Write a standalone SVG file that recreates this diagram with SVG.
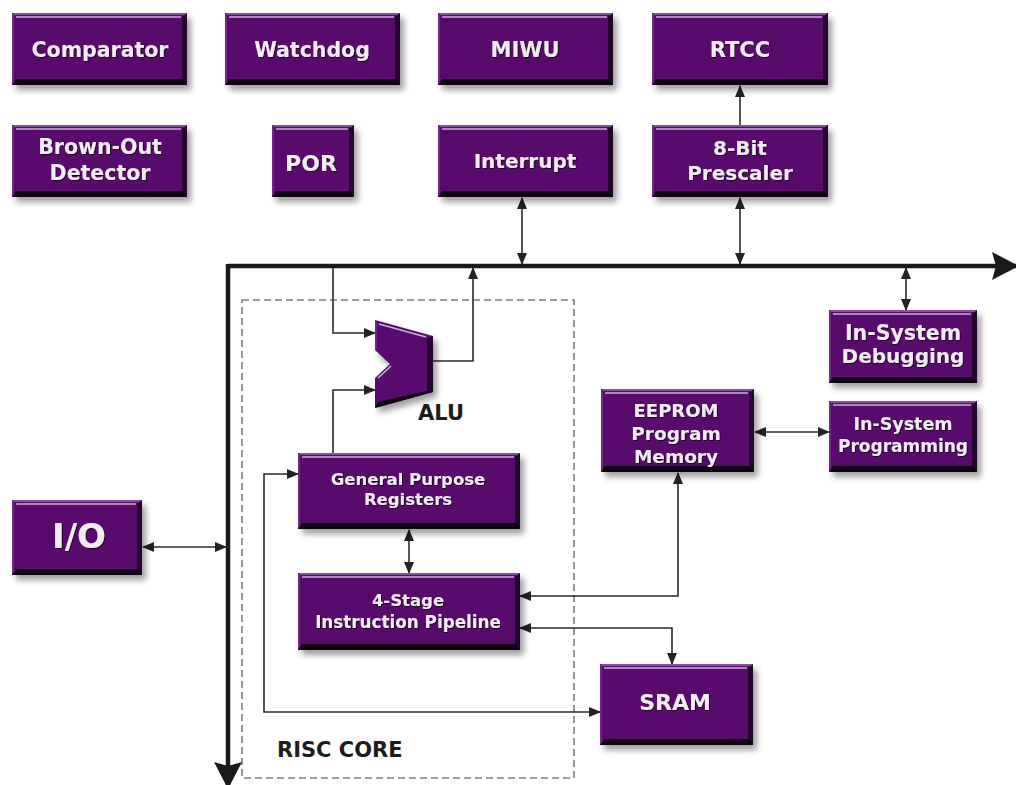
<svg xmlns="http://www.w3.org/2000/svg" width="1016" height="785" viewBox="0 0 1016 785">
<defs>
<filter id="blur" x="-20%" y="-20%" width="140%" height="140%"><feGaussianBlur stdDeviation="3"/></filter>
<filter id="ts" x="-10%" y="-30%" width="120%" height="160%"><feDropShadow dx="0.8" dy="0.8" stdDeviation="0.7" flood-color="#000" flood-opacity="0.9"/></filter>
<marker id="ah" markerUnits="userSpaceOnUse" markerWidth="12" markerHeight="10" refX="11" refY="5" orient="auto-start-reverse"><path d="M0,0 L12,5 L0,10 Z" fill="#222"/></marker>
<marker id="big" markerUnits="userSpaceOnUse" markerWidth="27" markerHeight="28" refX="26" refY="14" orient="auto"><path d="M0,0 L27,14 L0,28 L4,14 Z" fill="#1a1a1a"/></marker>
</defs>
<style>
.sh{fill:#000;opacity:.38;filter:url(#blur)}
.face{fill:#580b6d}
.tp{fill:#86509a}
.lf{fill:#6e2a80}
.rt{fill:#23062b}
.bt{fill:#0f0213}
.hl{stroke:#cdb0d6;stroke-width:1.5;fill:none}
.t{font-family:"DejaVu Sans","Liberation Sans",sans-serif;font-weight:bold;fill:#f0edf0;text-anchor:middle;filter:url(#ts)}
.lb{font-family:"DejaVu Sans","Liberation Sans",sans-serif;font-weight:bold;fill:#1c1c1c}
.ln{stroke:#2a2a2a;stroke-width:1.6;fill:none}
.bus{stroke:#1a1a1a;stroke-width:4.5;fill:none}
.dash{stroke:#7e7e7e;stroke-width:1.6;fill:none;stroke-dasharray:7 4}
</style>
<rect width="1016" height="785" fill="#fff"/>

<rect class="dash" x="242" y="300" width="332" height="478"/>
<text class="lb" x="277" y="757" font-size="21">RISC CORE</text>

<g id="connectors">
<path class="bus" d="M228,266 H1018" marker-end="url(#big)"/>
<path class="bus" d="M228,264 V788" marker-end="url(#big)"/>
<line class="ln" x1="740" y1="125" x2="740" y2="86" marker-end="url(#ah)"/>
<line class="ln" x1="522" y1="198" x2="522" y2="264" marker-start="url(#ah)" marker-end="url(#ah)"/>
<line class="ln" x1="740" y1="198" x2="740" y2="264" marker-start="url(#ah)" marker-end="url(#ah)"/>
<line class="ln" x1="906" y1="268" x2="906" y2="310" marker-start="url(#ah)" marker-end="url(#ah)"/>
<line class="ln" x1="755" y1="432" x2="829" y2="432" marker-start="url(#ah)" marker-end="url(#ah)"/>
<line class="ln" x1="143" y1="547" x2="226" y2="547" marker-start="url(#ah)" marker-end="url(#ah)"/>
<path class="ln" d="M333,268 V333 H375" marker-end="url(#ah)"/>
<path class="ln" d="M433,361 H473 V268" marker-end="url(#ah)"/>
<path class="ln" d="M333,453 V390 H375" marker-end="url(#ah)"/>
<line class="ln" x1="409" y1="530" x2="409" y2="573" marker-start="url(#ah)" marker-end="url(#ah)"/>
<path class="ln" d="M678,473 V596 H520" marker-start="url(#ah)" marker-end="url(#ah)"/>
<path class="ln" d="M520,628 H672 V664" marker-start="url(#ah)" marker-end="url(#ah)"/>
<path class="ln" d="M298,474 H264 V712 H600" marker-start="url(#ah)" marker-end="url(#ah)"/>
</g>

<g id="comparator">
<rect class="sh" x="16" y="18" width="175" height="72"/>
<rect class="face" x="12" y="13" width="175" height="72"/>
<rect class="tp" x="12" y="13" width="175" height="2"/>
<rect class="lf" x="12" y="13" width="2" height="72"/>
<path class="rt" d="M182,17 L187,13 L187,85 L182,80 Z"/>
<path class="bt" d="M12,85 L16,79 L183,79 L187,85 Z"/>
<line class="hl" x1="16" y1="17" x2="181" y2="17"/>
<text class="t" x="100" y="57" font-size="20.5">Comparator</text>
</g>
<g id="watchdog">
<rect class="sh" x="229" y="18" width="175" height="72"/>
<rect class="face" x="225" y="13" width="175" height="72"/>
<rect class="tp" x="225" y="13" width="175" height="2"/>
<rect class="lf" x="225" y="13" width="2" height="72"/>
<path class="rt" d="M395,17 L400,13 L400,85 L395,80 Z"/>
<path class="bt" d="M225,85 L229,79 L396,79 L400,85 Z"/>
<line class="hl" x1="229" y1="17" x2="394" y2="17"/>
<text class="t" x="312" y="57" font-size="20.5">Watchdog</text>
</g>
<g id="miwu">
<rect class="sh" x="442" y="18" width="175" height="72"/>
<rect class="face" x="438" y="13" width="175" height="72"/>
<rect class="tp" x="438" y="13" width="175" height="2"/>
<rect class="lf" x="438" y="13" width="2" height="72"/>
<path class="rt" d="M608,17 L613,13 L613,85 L608,80 Z"/>
<path class="bt" d="M438,85 L442,79 L609,79 L613,85 Z"/>
<line class="hl" x1="442" y1="17" x2="607" y2="17"/>
<text class="t" x="525" y="57" font-size="21">MIWU</text>
</g>
<g id="rtcc">
<rect class="sh" x="656" y="18" width="176" height="72"/>
<rect class="face" x="652" y="13" width="176" height="72"/>
<rect class="tp" x="652" y="13" width="176" height="2"/>
<rect class="lf" x="652" y="13" width="2" height="72"/>
<path class="rt" d="M823,17 L828,13 L828,85 L823,80 Z"/>
<path class="bt" d="M652,85 L656,79 L824,79 L828,85 Z"/>
<line class="hl" x1="656" y1="17" x2="822" y2="17"/>
<text class="t" x="740" y="57" font-size="21">RTCC</text>
</g>
<g id="brownout">
<rect class="sh" x="16" y="130" width="175" height="72"/>
<rect class="face" x="12" y="125" width="175" height="72"/>
<rect class="tp" x="12" y="125" width="175" height="2"/>
<rect class="lf" x="12" y="125" width="2" height="72"/>
<path class="rt" d="M182,129 L187,125 L187,197 L182,192 Z"/>
<path class="bt" d="M12,197 L16,191 L183,191 L187,197 Z"/>
<line class="hl" x1="16" y1="129" x2="181" y2="129"/>
<text class="t" x="100" y="154" font-size="20.5">Brown-Out</text>
<text class="t" x="100" y="180" font-size="20.5">Detector</text>
</g>
<g id="por">
<rect class="sh" x="276" y="130" width="82" height="72"/>
<rect class="face" x="272" y="125" width="82" height="72"/>
<rect class="tp" x="272" y="125" width="82" height="2"/>
<rect class="lf" x="272" y="125" width="2" height="72"/>
<path class="rt" d="M349,129 L354,125 L354,197 L349,192 Z"/>
<path class="bt" d="M272,197 L276,191 L350,191 L354,197 Z"/>
<line class="hl" x1="276" y1="129" x2="348" y2="129"/>
<text class="t" x="311" y="171" font-size="22">POR</text>
</g>
<g id="interrupt">
<rect class="sh" x="442" y="130" width="175" height="72"/>
<rect class="face" x="438" y="125" width="175" height="72"/>
<rect class="tp" x="438" y="125" width="175" height="2"/>
<rect class="lf" x="438" y="125" width="2" height="72"/>
<path class="rt" d="M608,129 L613,125 L613,197 L608,192 Z"/>
<path class="bt" d="M438,197 L442,191 L609,191 L613,197 Z"/>
<line class="hl" x1="442" y1="129" x2="607" y2="129"/>
<text class="t" x="525" y="168" font-size="20">Interrupt</text>
</g>
<g id="prescaler">
<rect class="sh" x="656" y="130" width="176" height="72"/>
<rect class="face" x="652" y="125" width="176" height="72"/>
<rect class="tp" x="652" y="125" width="176" height="2"/>
<rect class="lf" x="652" y="125" width="2" height="72"/>
<path class="rt" d="M823,129 L828,125 L828,197 L823,192 Z"/>
<path class="bt" d="M652,197 L656,191 L824,191 L828,197 Z"/>
<line class="hl" x1="656" y1="129" x2="822" y2="129"/>
<text class="t" x="740" y="155" font-size="20">8-Bit</text>
<text class="t" x="740" y="180" font-size="20">Prescaler</text>
</g>
<g id="debugging">
<rect class="sh" x="833" y="315" width="148" height="73"/>
<rect class="face" x="829" y="310" width="148" height="73"/>
<rect class="tp" x="829" y="310" width="148" height="2"/>
<rect class="lf" x="829" y="310" width="2" height="73"/>
<path class="rt" d="M972,314 L977,310 L977,383 L972,378 Z"/>
<path class="bt" d="M829,383 L833,377 L973,377 L977,383 Z"/>
<line class="hl" x1="833" y1="314" x2="971" y2="314"/>
<text class="t" x="903" y="340" font-size="20.5">In-System</text>
<text class="t" x="903" y="363" font-size="20">Debugging</text>
</g>
<g id="eeprom">
<rect class="sh" x="605" y="394" width="153" height="83"/>
<rect class="face" x="601" y="389" width="153" height="83"/>
<rect class="tp" x="601" y="389" width="153" height="2"/>
<rect class="lf" x="601" y="389" width="2" height="83"/>
<path class="rt" d="M749,393 L754,389 L754,472 L749,467 Z"/>
<path class="bt" d="M601,472 L605,466 L750,466 L754,472 Z"/>
<line class="hl" x1="605" y1="393" x2="748" y2="393"/>
<text class="t" x="676" y="417" font-size="18">EEPROM</text>
<text class="t" x="676" y="440" font-size="18.5">Program</text>
<text class="t" x="676" y="463" font-size="18.5">Memory</text>
</g>
<g id="isp">
<rect class="sh" x="833" y="406" width="148" height="71"/>
<rect class="face" x="829" y="401" width="148" height="71"/>
<rect class="tp" x="829" y="401" width="148" height="2"/>
<rect class="lf" x="829" y="401" width="2" height="71"/>
<path class="rt" d="M972,405 L977,401 L977,472 L972,467 Z"/>
<path class="bt" d="M829,472 L833,466 L973,466 L977,472 Z"/>
<line class="hl" x1="833" y1="405" x2="971" y2="405"/>
<text class="t" x="903" y="430" font-size="17.5">In-System</text>
<text class="t" x="903" y="452" font-size="17">Programming</text>
</g>
<g id="alu">
<path class="sh" d="M379,325 L437,341 L437,397 L379,413 L379,382 L393,369 L379,356 Z"/>
<path class="face" d="M375,320 L433,336 L433,392 L375,408 L375,378 L390,364 L375,350 Z"/>
<path class="rt" d="M427,339 L433,336 L433,392 L427,391 Z"/>
<path class="bt" d="M375,408 L433,392 L427,391 L378,402 Z"/>
<path class="lf" d="M375,320 L377,323 L377,348 L375,350 Z"/>
<line class="hl" x1="379" y1="324" x2="426" y2="337"/>
<line class="hl" x1="378" y1="378" x2="391" y2="366"/>
<text class="lb" x="441" y="420" font-size="21" text-anchor="middle">ALU</text>
</g>
<g id="gpr">
<rect class="sh" x="302" y="458" width="222" height="76"/>
<rect class="face" x="298" y="453" width="222" height="76"/>
<rect class="tp" x="298" y="453" width="222" height="2"/>
<rect class="lf" x="298" y="453" width="2" height="76"/>
<path class="rt" d="M515,457 L520,453 L520,529 L515,524 Z"/>
<path class="bt" d="M298,529 L302,523 L516,523 L520,529 Z"/>
<line class="hl" x1="302" y1="457" x2="514" y2="457"/>
<text class="t" x="408" y="485" font-size="16.5">General Purpose</text>
<text class="t" x="408" y="505" font-size="16.5">Registers</text>
</g>
<g id="pipeline">
<rect class="sh" x="302" y="578" width="222" height="77"/>
<rect class="face" x="298" y="573" width="222" height="77"/>
<rect class="tp" x="298" y="573" width="222" height="2"/>
<rect class="lf" x="298" y="573" width="2" height="77"/>
<path class="rt" d="M515,577 L520,573 L520,650 L515,645 Z"/>
<path class="bt" d="M298,650 L302,644 L516,644 L520,650 Z"/>
<line class="hl" x1="302" y1="577" x2="514" y2="577"/>
<text class="t" x="408" y="606" font-size="16.5">4-Stage</text>
<text class="t" x="408" y="628" font-size="16.8">Instruction Pipeline</text>
</g>
<g id="sram">
<rect class="sh" x="604" y="669" width="153" height="81"/>
<rect class="face" x="600" y="664" width="153" height="81"/>
<rect class="tp" x="600" y="664" width="153" height="2"/>
<rect class="lf" x="600" y="664" width="2" height="81"/>
<path class="rt" d="M748,668 L753,664 L753,745 L748,740 Z"/>
<path class="bt" d="M600,745 L604,739 L749,739 L753,745 Z"/>
<line class="hl" x1="604" y1="668" x2="747" y2="668"/>
<text class="t" x="675" y="710" font-size="22">SRAM</text>
</g>
<g id="io">
<rect class="sh" x="16" y="505" width="130" height="75"/>
<rect class="face" x="12" y="500" width="130" height="75"/>
<rect class="tp" x="12" y="500" width="130" height="2"/>
<rect class="lf" x="12" y="500" width="2" height="75"/>
<path class="rt" d="M137,504 L142,500 L142,575 L137,570 Z"/>
<path class="bt" d="M12,575 L16,569 L138,569 L142,575 Z"/>
<line class="hl" x1="16" y1="504" x2="136" y2="504"/>
<text class="t" x="79" y="548" font-size="34">I/O</text>
</g>
</svg>
